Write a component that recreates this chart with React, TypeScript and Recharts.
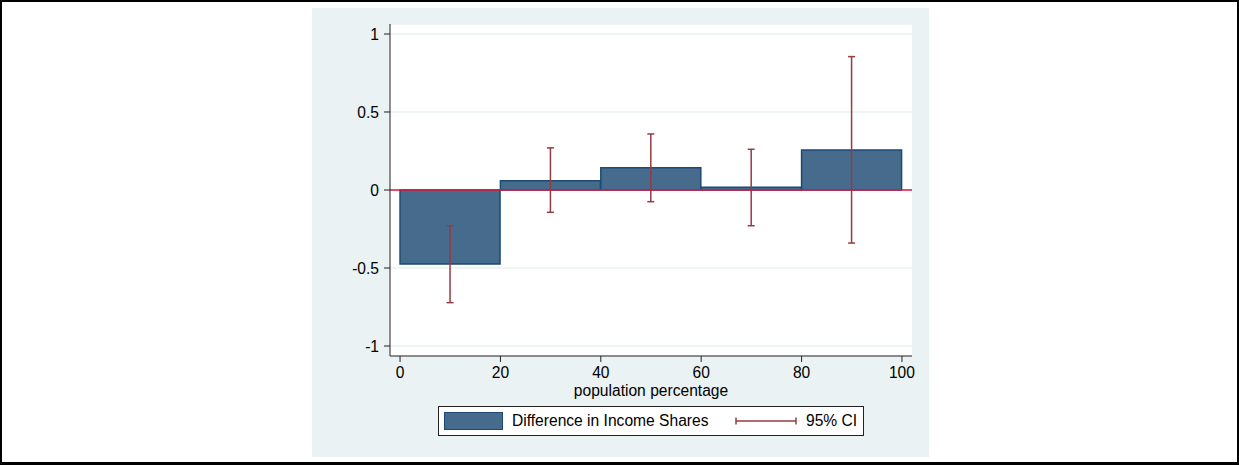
import React from 'react';
import {
  ComposedChart,
  Bar,
  XAxis,
  YAxis,
  CartesianGrid,
  ReferenceLine,
  ErrorBar,
  Legend,
} from 'recharts';

// ---- data ----
const midpoints = [10, 30, 50, 70, 90];
const diffShares = [-0.475, 0.06, 0.143, 0.017, 0.256];
const ciLow = [-0.722, -0.143, -0.075, -0.229, -0.34];
const ciHigh = [-0.229, 0.27, 0.359, 0.261, 0.855];
const xTicks = [0, 20, 40, 60, 80, 100];
const yTicks = [-1, -0.5, 0, 0.5, 1];
const seriesName = 'Difference in Income Shares';
const ciName = '95% CI';
const xTitle = 'population percentage';

const data = midpoints.map((x, i) => ({
  x,
  value: diffShares[i],
  err: [diffShares[i] - ciLow[i], ciHigh[i] - diffShares[i]],
}));

// ---- styles ----
const FONT = '"Liberation Sans", Arial, Helvetica, sans-serif';
const FS = 15.6;
const BAR_FILL = '#476b8d';
const BAR_STROKE = '#1d4a72';
const CI_COLOR = '#953b45';
const ZERO_COLOR = '#d81b42';
const PANEL_BG = '#eaf2f3';

const renderLegend = () => (
  <div
    style={{
      position: 'relative',
      width: 426,
      height: 30,
      boxSizing: 'border-box',
      border: '1px solid #222',
      background: '#fff',
      fontFamily: FONT,
      fontSize: FS,
      color: '#000',
    }}
  >
    <div
      style={{
        position: 'absolute',
        left: 5,
        top: 5,
        width: 59,
        height: 18,
        boxSizing: 'border-box',
        background: BAR_FILL,
        border: `1.5px solid ${BAR_STROKE}`,
      }}
    />
    <span style={{ position: 'absolute', left: 73, top: 0, lineHeight: '28px', whiteSpace: 'nowrap' }}>
      {seriesName}
    </span>
    <svg style={{ position: 'absolute', left: 294, top: 0 }} width={66} height={28}>
      <line x1={3} y1={14} x2={63} y2={14} stroke={CI_COLOR} strokeWidth={1.5} />
      <line x1={3} y1={10.5} x2={3} y2={17.5} stroke={CI_COLOR} strokeWidth={1.5} />
      <line x1={63} y1={10.5} x2={63} y2={17.5} stroke={CI_COLOR} strokeWidth={1.5} />
    </svg>
    <span style={{ position: 'absolute', left: 367, top: 0, lineHeight: '28px', whiteSpace: 'nowrap' }}>
      {ciName}
    </span>
  </div>
);

export default function App() {
  return (
    <div
      style={{
        position: 'absolute',
        left: 0,
        top: 0,
        width: 1239,
        height: 465,
        boxSizing: 'border-box',
        borderTop: '2px solid #000',
        borderLeft: '2px solid #000',
        borderRight: '2px solid #000',
        borderBottom: '3px solid #000',
        background: '#fff',
      }}
    >
      <div
        style={{
          position: 'absolute',
          left: 310,
          top: 6,
          width: 617,
          height: 449,
          background: PANEL_BG,
        }}
      >
        <ComposedChart
          width={617}
          height={449}
          data={data}
          margin={{ top: 16, right: 17, left: 0, bottom: 21 }}
          barCategoryGap={0}
          barGap={0}
          style={{ fontFamily: FONT }}
        >
          <CartesianGrid
            vertical={false}
            horizontal
            fill="#ffffff"
            stroke={PANEL_BG}
            strokeWidth={1.5}
          />
          <XAxis
            dataKey="x"
            type="number"
            domain={[-2, 102]}
            ticks={xTicks}
            interval={0}
            allowDataOverflow
            height={50}
            tickSize={6}
            tickMargin={5}
            stroke="#222"
            tick={{ fill: '#000', fontSize: FS, fontFamily: FONT }}
            label={{
              value: xTitle,
              position: 'insideBottom',
              offset: 10,
              fill: '#000',
              fontSize: FS,
              fontFamily: FONT,
            }}
          />
          <YAxis
            type="number"
            domain={[-1.064, 1.064]}
            ticks={yTicks}
            interval={0}
            allowDataOverflow
            width={78}
            tickSize={6}
            tickMargin={5}
            stroke="#222"
            tick={{ fill: '#000', fontSize: FS, fontFamily: FONT }}
          />
          <ReferenceLine y={0} stroke={ZERO_COLOR} strokeWidth={1.5} />
          <Bar
            dataKey="value"
            name={seriesName}
            fill={BAR_FILL}
            stroke={BAR_STROKE}
            strokeWidth={1.5}
            isAnimationActive={false}
          >
            <ErrorBar
              dataKey="err"
              direction="y"
              width={3.5}
              stroke={CI_COLOR}
              strokeWidth={1.5}
            />
          </Bar>
          <Legend
            verticalAlign="bottom"
            content={renderLegend}
            wrapperStyle={{ left: 126, width: 426, bottom: 21 }}
          />
        </ComposedChart>
      </div>
    </div>
  );
}
